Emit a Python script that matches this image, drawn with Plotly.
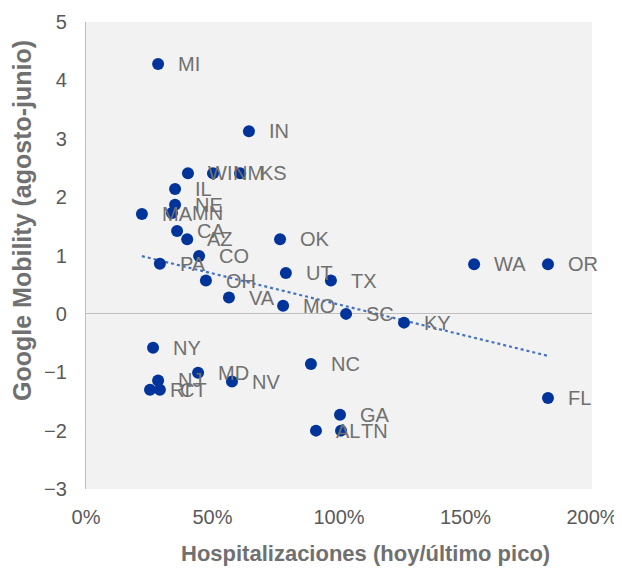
import numpy as np
import plotly.graph_objects as go

states = ["MI", "IN", "WI", "NM", "KS", "IL", "NE", "MA", "MN", "CA", "AZ", "CO", "PA", "OH",
          "VA", "OK", "UT", "MO", "TX", "SC", "KY", "WA", "OR", "FL", "NY", "NJ", "RI", "CT",
          "MD", "NV", "NC", "GA", "AL", "TN"]
hosp = [0.285, 0.644, 0.403, 0.502, 0.609, 0.352, 0.352, 0.221, 0.340, 0.360, 0.400, 0.447,
        0.292, 0.474, 0.565, 0.767, 0.790, 0.779, 0.968, 1.028, 1.257, 1.534, 1.826, 1.826,
        0.265, 0.285, 0.253, 0.292, 0.443, 0.577, 0.889, 1.004, 0.909, 1.008]
mobility = [4.28, 3.13, 2.41, 2.41, 2.41, 2.14, 1.87, 1.71, 1.73, 1.42, 1.28, 0.99,
            0.86, 0.57, 0.28, 1.28, 0.70, 0.14, 0.57, 0.00, -0.15, 0.85, 0.85, -1.44,
            -0.58, -1.14, -1.30, -1.30, -1.01, -1.16, -0.86, -1.73, -2.00, -2.00]

x_ticks = [0, 0.5, 1.0, 1.5, 2.0]
y_ticks = [-3, -2, -1, 0, 1, 2, 3, 4, 5]

x_title = "Hospitalizaciones (hoy/último pico)"
y_title = "Google Mobility (agosto-junio)"

FONT = "Liberation Sans, Arial, sans-serif"

slope, intercept = np.polyfit(hosp, mobility, 1)
tx = np.array([min(hosp), max(hosp)])
ty = slope * tx + intercept

fig = go.Figure()
fig.add_trace(go.Scatter(
    x=tx, y=ty, mode="lines",
    line=dict(color="#4472C4", width=2.2, dash="dot"),
    hoverinfo="skip", showlegend=False,
))
fig.add_trace(go.Scatter(
    x=hosp, y=mobility, mode="markers",
    marker=dict(color="#00349B", size=12),
    text=states, showlegend=False,
))

for s, xv, yv in zip(states, hosp, mobility):
    fig.add_annotation(
        x=xv, y=yv, text=s, showarrow=False,
        xanchor="left", yanchor="middle", xshift=18,
        font=dict(family=FONT, size=20, color="#707070"),
    )

fig.add_annotation(
    xref="paper", yref="paper", x=0.553, y=0, yshift=-64,
    xanchor="center", yanchor="middle", showarrow=False,
    text="<b>" + x_title + "</b>",
    font=dict(family=FONT, size=22, color="#707070"),
)
fig.add_annotation(
    xref="paper", yref="paper", x=0, y=0.574, xshift=-64,
    xanchor="center", yanchor="middle", showarrow=False, textangle=-90,
    text="<b>" + y_title + "</b>",
    font=dict(family=FONT, size=25, color="#707070"),
)

fig.update_layout(
    width=614, height=560,
    margin=dict(l=78, r=30, t=14, b=79, autoexpand=False),
    paper_bgcolor="white", plot_bgcolor="#F2F2F2",
    font=dict(family=FONT, color="#595959"),
    xaxis=dict(
        range=[0, 2], tickvals=x_ticks, tickformat=".0%",
        showgrid=False, zeroline=False, showline=False, automargin=False,
        ticks="", ticklabelstandoff=14,
        tickfont=dict(family=FONT, size=20, color="#595959"),
    ),
    yaxis=dict(
        range=[-3, 5], tickvals=y_ticks,
        showgrid=False, zeroline=True, zerolinecolor="#BFBFBF", zerolinewidth=1.3,
        showline=True, linecolor="#BFBFBF", linewidth=1.3, automargin=False,
        ticks="", ticklabelstandoff=14,
        tickfont=dict(family=FONT, size=20, color="#595959"),
    ),
)

fig.write_html("out.html")
